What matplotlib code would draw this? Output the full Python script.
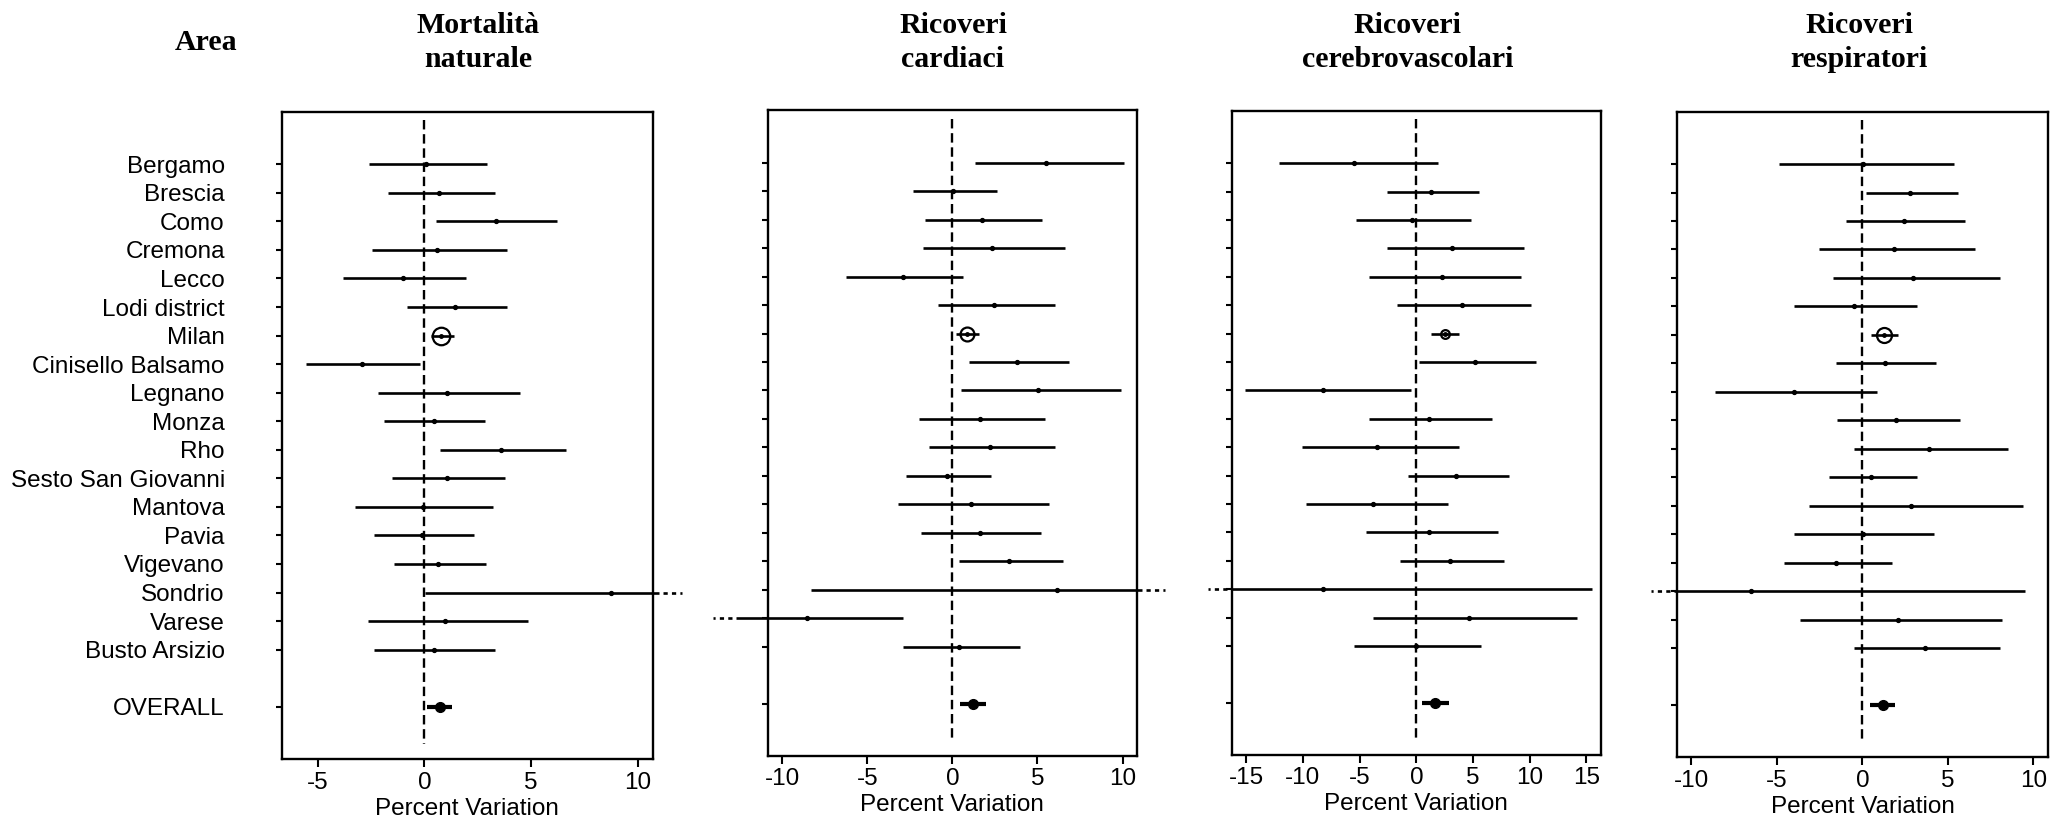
import matplotlib
matplotlib.use("Agg")
import matplotlib.pyplot as plt
import matplotlib.transforms as mtransforms
import numpy as np

# ---------------- data ----------------
areas = ["Bergamo", "Brescia", "Como", "Cremona", "Lecco", "Lodi district", "Milan",
         "Cinisello Balsamo", "Legnano", "Monza", "Rho", "Sesto San Giovanni",
         "Mantova", "Pavia", "Vigevano", "Sondrio", "Varese", "Busto Arsizio"]
overall_label = "OVERALL"

titles = [("Mortalità", "naturale"), ("Ricoveri", "cardiaci"),
          ("Ricoveri", "cerebrovascolari"), ("Ricoveri", "respiratori")]

# Mortalità naturale
mort_est = [0.06, 0.70, 3.34, 0.61, -1.02, 1.44, 0.78, -2.91, 1.06, 0.44, 3.59, 1.06,
            -0.08, -0.09, 0.66, 8.75, 0.97, 0.44]
mort_lo = [-2.61, -1.72, 0.53, -2.44, -3.80, -0.81, 0.30, -5.53, -2.16, -1.91, 0.72, -1.53,
           -3.25, -2.34, -1.44, 0.03, -2.63, -2.34]
mort_hi = [2.95, 3.31, 6.21, 3.86, 1.97, 3.86, 1.41, -0.20, 4.50, 2.86, 6.66, 3.78,
           3.22, 2.31, 2.88, 11.0, 4.86, 3.33]
mort_overall = (0.72, 0.13, 1.30)

# Ricoveri cardiaci
card_est = [5.48, 0.06, 1.74, 2.33, -2.88, 2.43, 0.84, 3.78, 5.01, 1.65, 2.19, -0.29,
            1.08, 1.65, 3.33, 6.15, -8.56, 0.39]
card_lo = [1.31, -2.29, -1.61, -1.72, -6.27, -0.84, 0.22, 0.98, 0.53, -1.96, -1.39, -2.74,
           -3.21, -1.84, 0.41, -8.31, -12.7, -2.88]
card_hi = [10.11, 2.64, 5.25, 6.60, 0.61, 6.03, 1.59, 6.84, 9.89, 5.47, 6.03, 2.29,
           5.68, 5.23, 6.48, 11.13, -2.92, 4.00]
card_overall = (1.19, 0.47, 1.98)

# Ricoveri cerebrovascolari
cere_est = [-5.53, 1.26, -0.41, 3.15, 2.29, 4.00, 2.53, 5.18, -8.21, 1.09, -3.47, 3.47,
            -3.82, 1.12, 2.97, -8.21, 4.65, -0.06]
cere_lo = [-12.09, -2.59, -5.29, -2.59, -4.15, -1.74, 1.32, 0.26, -15.15, -4.15, -10.06, -0.74,
           -9.74, -4.47, -1.41, -16.35, -3.79, -5.50]
cere_hi = [1.94, 5.50, 4.82, 9.53, 9.24, 10.09, 3.79, 10.59, -0.44, 6.68, 3.79, 8.21,
           2.79, 7.21, 7.71, 15.53, 14.15, 5.68]
cere_overall = (1.68, 0.53, 2.85)

# Ricoveri respiratori
resp_est = [0.06, 2.77, 2.42, 1.85, 2.98, -0.51, 1.27, 1.31, -4.02, 1.97, 3.90, 0.49,
            2.87, 0.06, -1.52, -6.49, 2.09, 3.65]
resp_lo = [-4.89, 0.19, -0.94, -2.51, -1.73, -4.00, 0.53, -1.52, -8.60, -1.50, -0.51, -1.97,
           -3.10, -4.00, -4.56, -11.0, -3.65, -0.51]
resp_hi = [5.34, 5.58, 6.02, 6.59, 8.03, 3.18, 2.07, 4.33, 0.84, 5.69, 8.50, 3.18,
           9.40, 4.19, 1.73, 9.51, 8.17, 8.03]
resp_overall = (1.21, 0.47, 1.91)

# CIs that run off the axis (drawn with a dotted continuation): (row, side)
truncated = [[(15, "hi")], [(15, "hi"), (16, "lo")], [(15, "lo")], [(15, "lo")]]

xlims = [(-6.69, 10.71), (-10.85, 10.83), (-16.29, 16.27), (-10.82, 10.84)]
xticks = [[-5, 0, 5, 10], [-10, -5, 0, 5, 10], [-15, -10, -5, 0, 5, 10, 15], [-10, -5, 0, 5, 10]]

panels = [(mort_est, mort_lo, mort_hi, mort_overall),
          (card_est, card_lo, card_hi, card_overall),
          (cere_est, cere_lo, cere_hi, cere_overall),
          (resp_est, resp_lo, resp_hi, resp_overall)]

# ---------------- layout (pixel boxes) ----------------
W, H = 2071, 825
boxes = [(281.7, 652.7, 111.7, 759.3), (767.7, 1136.7, 110.3, 756.0),
         (1231.7, 1600.7, 111.0, 755.0), (1677.3, 2047.7, 111.7, 757.3)]
title_cx = [478, 953, 1407.5, 1859]
milan_size = [12.6, 10.0, 6.3, 10.8]

plt.rcParams["font.family"] = ["Liberation Sans", "DejaVu Sans"]
fig = plt.figure(figsize=(W / 100, H / 100), dpi=100)

ypos = np.arange(1, len(areas) + 1)
y_overall = len(areas) + 2

for i, (est, lo, hi, ov) in enumerate(panels):
    l, r, t, b = boxes[i]
    ax = fig.add_axes([l / W, 1 - b / H, (r - l) / W, (b - t) / H])
    ax.set_xlim(*xlims[i])
    ax.set_ylim(21.84, -0.84)
    for s in ax.spines.values():
        s.set_linewidth(1.7)
    # zero line
    ax.plot([0, 0], [-0.55, 21.3], color="black", lw=1.7, linestyle=(0, (4, 2)), zorder=1)
    # CIs
    for k in range(len(areas)):
        if areas[k] == "Milan":
            ax.plot([lo[k], hi[k]], [ypos[k], ypos[k]], color="black", lw=1.9,
                    solid_capstyle="butt", zorder=2)
            ax.plot(est[k], ypos[k], marker="o", markersize=milan_size[i], mfc="none",
                    mec="black", mew=1.6, zorder=3)
            ax.plot(est[k], ypos[k], marker="o", markersize=2.5, color="black", zorder=3)
        else:
            ax.plot([lo[k], hi[k]], [ypos[k], ypos[k]], color="black", lw=1.9,
                    solid_capstyle="butt", zorder=2, clip_on=False)
            ax.plot(est[k], ypos[k], marker="o", markersize=2.8, color="black", zorder=3)
    rng = xlims[i][1] - xlims[i][0]
    for (k, side) in truncated[i]:
        if side == "hi":
            x0 = hi[k] + 0.012 * rng
            x1 = x0 + 0.05 * rng
        else:
            x0 = lo[k] - 0.012 * rng
            x1 = x0 - 0.05 * rng
        ax.plot([x0, x1], [ypos[k], ypos[k]], color="black", lw=1.9,
                linestyle=(0, (1.6, 1.6)), clip_on=False, zorder=2)
    # overall
    ax.plot([ov[1], ov[2]], [y_overall, y_overall], color="black", lw=3.0,
            solid_capstyle="butt", zorder=2)
    ax.plot(ov[0], y_overall, marker="o", markersize=7, color="black", zorder=3)

    ax.set_xticks(xticks[i])
    ax.set_xticklabels([str(v) for v in xticks[i]])
    ax.set_yticks(list(ypos) + [y_overall])
    if i == 0:
        ax.set_yticklabels(areas + [overall_label], fontsize=17.5)
        ax.tick_params(axis="y", pad=36.5)
        shift = mtransforms.ScaledTranslation(0, -3 / 100, fig.dpi_scale_trans)
        for lab in ax.get_yticklabels():
            lab.set_transform(lab.get_transform() + shift)
    else:
        ax.set_yticklabels([])
    ax.tick_params(axis="y", length=4.5, width=1.5)
    ax.tick_params(axis="x", length=5.8, width=1.5, labelsize=17.5, pad=3)
    ax.set_xlabel("Percent Variation", fontsize=17.5, labelpad=3)

    cx = title_cx[i] / W
    fig.text(cx, 1 - 33 / H, titles[i][0], ha="center", va="baseline",
             family="Liberation Serif", weight="bold", fontsize=21.5)
    fig.text(cx, 1 - 67 / H, titles[i][1], ha="center", va="baseline",
             family="Liberation Serif", weight="bold", fontsize=21.5)

fig.text(206.5 / W, 1 - 50 / H, "Area", ha="center", va="baseline",
         family="Liberation Serif", weight="bold", fontsize=21.5)

fig.savefig("out.png", dpi=100)
